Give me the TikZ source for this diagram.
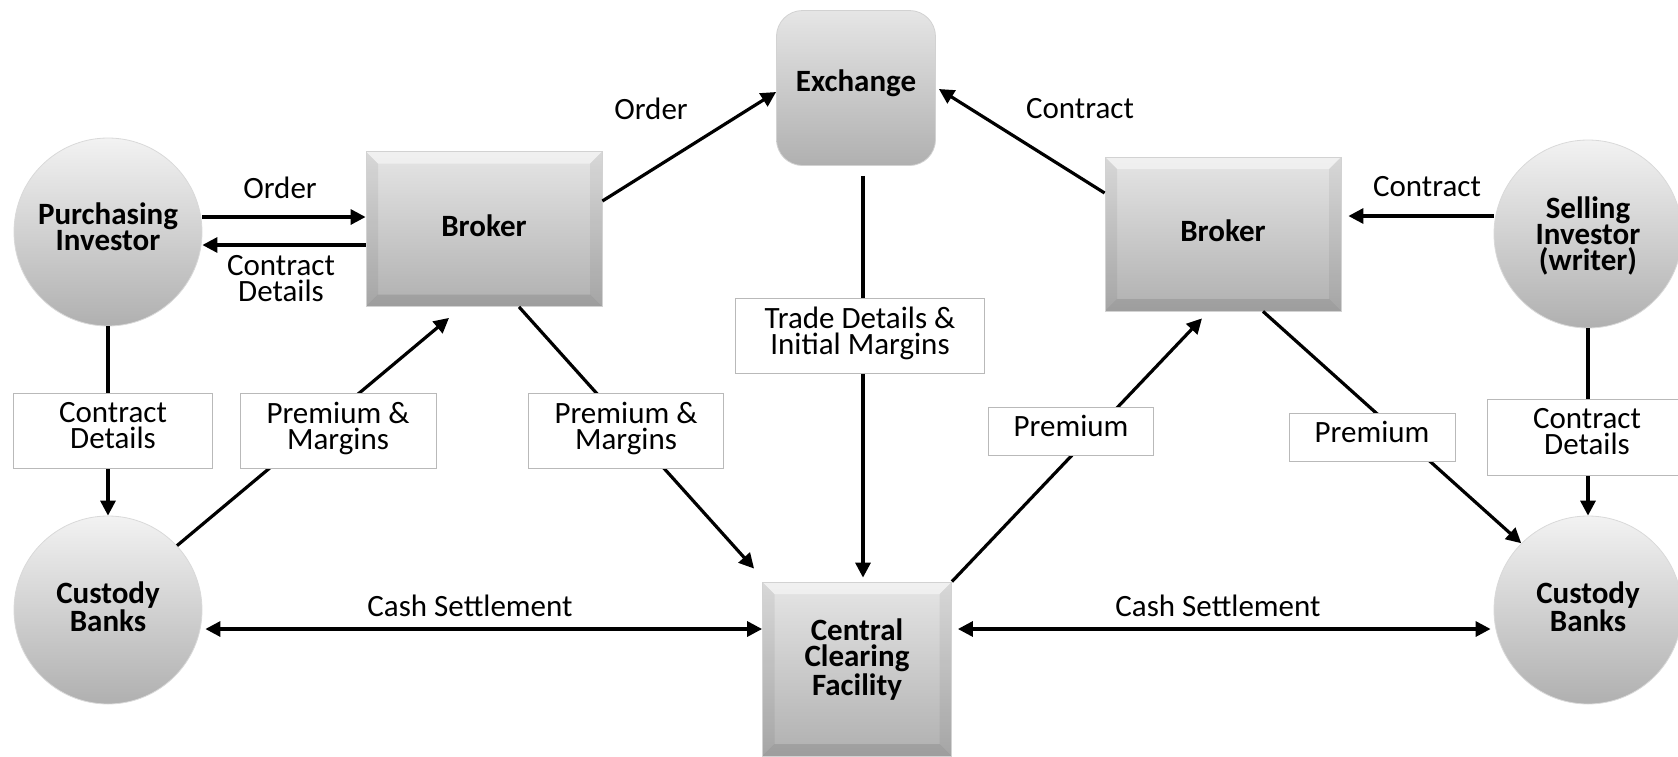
\documentclass[tikz,border=0pt]{standalone}
\usepackage{fontspec}
\setmainfont{Carlito}
\usetikzlibrary{positioning,calc,arrows.meta,shapes}

\begin{document}
\begin{tikzpicture}[x=0.5pt,y=-0.5pt,
        font=\fontsize{15.5}{13}\selectfont,
        circ/.style={circle,minimum size=94pt,inner sep=0pt,top color=gray!10,bottom color=gray!62,draw=gray!30,align=center,font=\fontsize{15.5}{13}\selectfont\bfseries},
        block/.style={rectangle,inner sep=0pt,top color=gray!20,bottom color=gray!62,draw=gray!35,align=center,font=\fontsize{15.5}{13}\selectfont\bfseries},
        bevel/.style={path picture={
            \fill[white,opacity=0.45] (path picture bounding box.north west) -- (path picture bounding box.north east) -- ++(-12,12) -- ($(path picture bounding box.north west)+(12,12)$) -- cycle;
            \fill[black,opacity=0.06] (path picture bounding box.north west) -- ++(12,12) -- ($(path picture bounding box.south west)+(12,-12)$) -- (path picture bounding box.south west) -- cycle;
            \fill[black,opacity=0.06] (path picture bounding box.north east) -- ++(-12,12) -- ($(path picture bounding box.south east)+(-12,-12)$) -- (path picture bounding box.south east) -- cycle;
            \fill[black,opacity=0.10] (path picture bounding box.south west) -- ++(12,-12) -- ($(path picture bounding box.south east)+(-12,-12)$) -- (path picture bounding box.south east) -- cycle;}},
        lbl/.style={rectangle,draw=gray!55,fill=white,inner sep=0pt,align=center,minimum height=37.5pt,text depth=5.5pt},
        txt/.style={align=center,inner sep=0pt},
        arr/.style={line width=1.6pt,-{Triangle[length=7.5pt,width=7.5pt]}},
        darr/.style={line width=1.6pt,{Triangle[length=7.5pt,width=7.5pt]}-{Triangle[length=7.5pt,width=7.5pt]}}]
        \useasboundingbox (0,0) rectangle (1678,756);

        % investors and banks
        \node[circ,text depth=5.5pt] (purch) at (108,232) {Purchasing\\Investor};
        \node[circ,text depth=0pt] (sell) at (1588,234) {Selling\\Investor\\(writer)};
        \node[circ,text depth=3.5pt] (custL) at (108,610) {Custody\\Banks};
        \node[circ,text depth=3.5pt] (custR) at (1588,610) {Custody\\Banks};

        % brokers, exchange, clearing
        \node[block,bevel,text depth=3pt,minimum width=118pt,minimum height=77.5pt] (brokerL) at (484,229) {Broker};
        \node[block,bevel,text depth=3pt,minimum width=118pt,minimum height=77pt] (brokerR) at (1223,234) {Broker};
        \node[block,rounded corners=13pt,text depth=7.5pt,minimum width=79.5pt,minimum height=77.5pt] (exch) at (856,88) {Exchange};
        \node[block,bevel,text depth=11.5pt,minimum width=94.5pt,minimum height=87pt] (ccf) at (857,669) {Central\\Clearing\\Facility};

        % connectors
        \coordinate (o1) at ($(purch.east)+(0,-15)$);
        \draw[arr] (o1) -- (o1 -| brokerL.west);
        \coordinate (c1) at ($(brokerL.west)+(0,16)$);
        \draw[arr] (c1) -- (c1 -| purch.east);
        \draw[arr] (purch.south) -- (custL.north);
        \draw[arr] (custL.43) -- ($(brokerL.south)+(-35,11)$);
        \draw[arr] ($(brokerL.south)+(35,0)$) -- ($(ccf.north west)+(-8,-13)$);
        \draw[arr] ($(brokerL.east)+(0,-28)$) -- ($(exch.west)+(0,4)$);
        \draw[arr] ($(brokerR.west)+(0,-41)$) -- ($(exch.east)+(3,1)$);
        \draw[arr] ($(exch.south)+(7,10)$) -- ($(ccf.north)+(6,-4)$);
        \draw[arr] (ccf.north east) -- ($(brokerR.south)+(-21,7)$);
        \draw[arr] ($(brokerR.south)+(40,0)$) -- (custR.135);
        \coordinate (s1) at ($(sell.west)+(0,-18)$);
        \coordinate (s2) at (s1 -| brokerR.east);
        \draw[arr] (s1) -- ($(s2)+(7,0)$);
        \draw[arr] (sell.south) -- (custR.north);
        \coordinate (k1) at ($(custL.east)+(3,19)$);
        \draw[darr] (k1) -- (k1 -| ccf.west);
        \coordinate (k2) at ($(custR.west)+(-3,19)$);
        \coordinate (k3) at ($(k2 -| ccf.east)+(6,0)$);
        \draw[darr] (k3) -- (k2);

        % plain labels
        \node[txt] (tOrderL) at (280,188) {Order};
        \node[txt] (tCDL) at (281,279) {Contract\\Details};
        \node[txt] (tOrderM) at (651,109) {Order};
        \node[txt] (tContrM) at (1080,109) {Contract};
        \node[txt] (tContrR) at (1427,187) {Contract};
        \node[txt] (tCashL) at (470,606) {Cash Settlement};
        \node[txt] (tCashR) at (1218,606) {Cash Settlement};

        % boxed labels
        \node[lbl,minimum width=99.5pt] (bCDL) at (113,431) {Contract\\Details};
        \node[lbl,minimum width=98pt] (bPML) at (338,431) {Premium \&\\Margins};
        \node[lbl,minimum width=97.5pt] (bPMM) at (626,431) {Premium \&\\Margins};
        \node[lbl,minimum width=124.5pt] (bTD) at (860,336) {Trade Details \&\\Initial Margins};
        \node[lbl,minimum width=82.5pt,minimum height=24pt] (bPL) at (1071,431) {Premium};
        \node[lbl,minimum width=83pt,minimum height=24pt] (bPR) at (1372,437) {Premium};
        \node[lbl,minimum width=100pt,minimum height=38pt] (bCDR) at (1587,437) {Contract\\Details};
\end{tikzpicture}
\end{document}
